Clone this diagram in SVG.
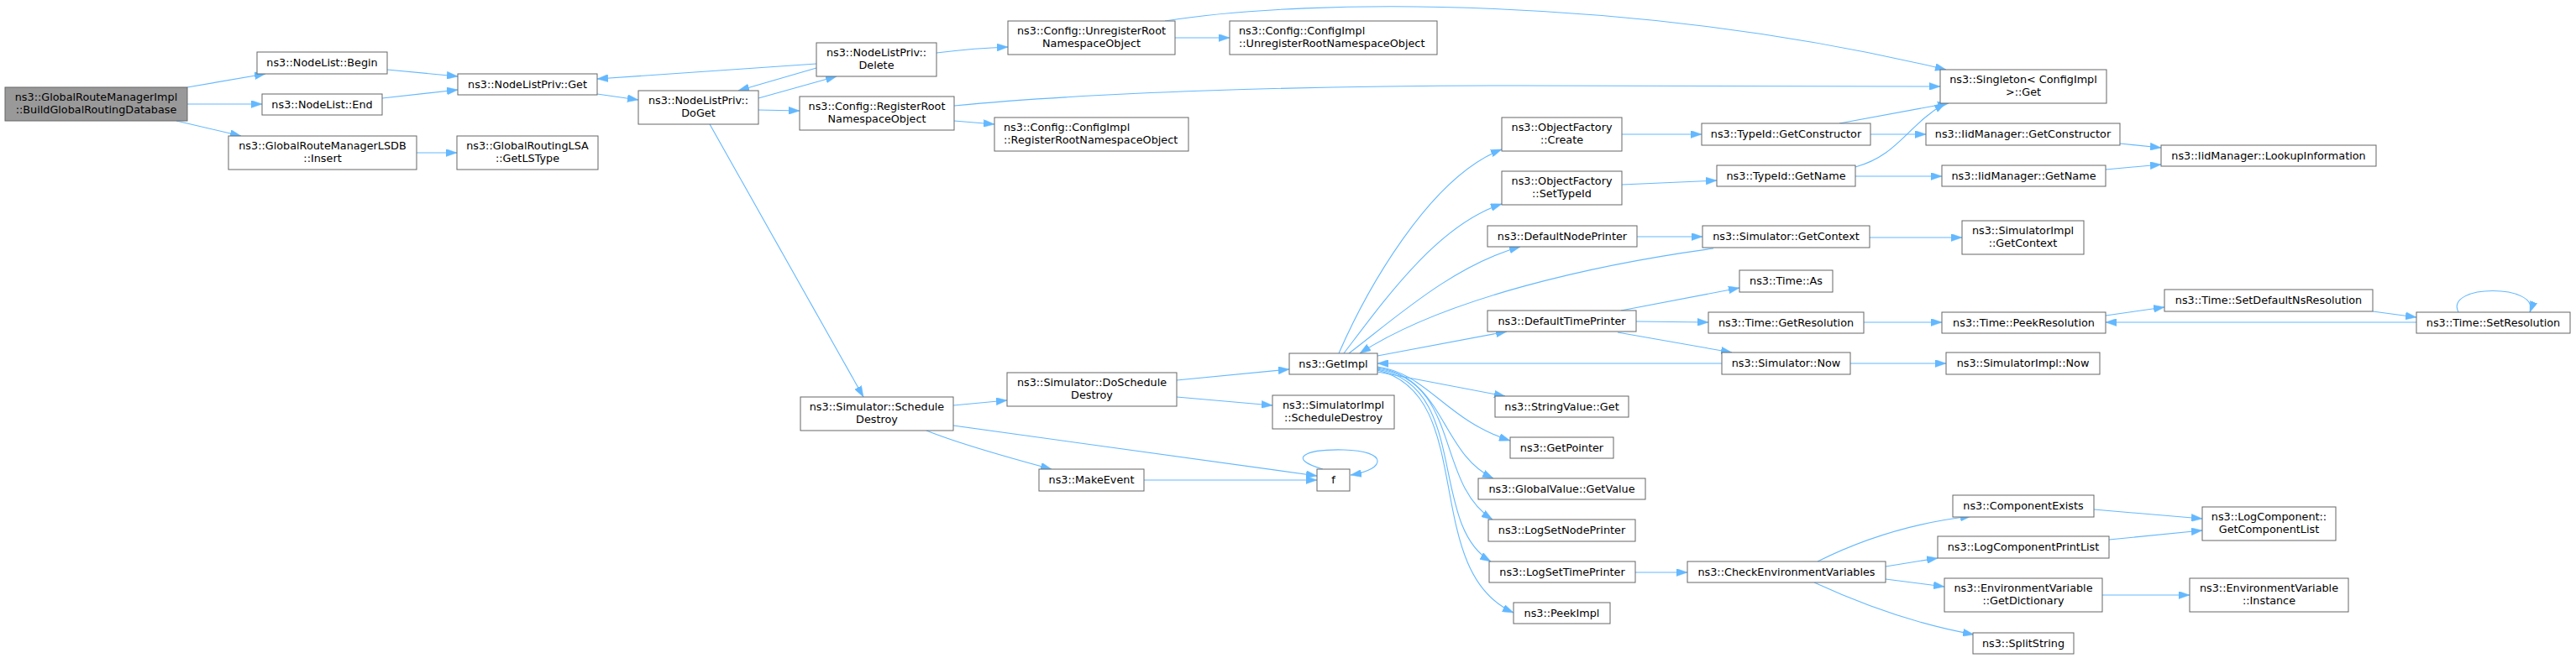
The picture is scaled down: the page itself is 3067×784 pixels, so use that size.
<svg xmlns="http://www.w3.org/2000/svg" width="3067" height="784" viewBox="0 0 3067 784">
<style>
.n rect{fill:#fff;stroke:#666;stroke-width:1}
.root rect{fill:#999}
text{font-family:"DejaVu Sans","Noto Sans",sans-serif;font-size:12.8px;fill:#000;text-anchor:middle}
text.l{text-anchor:start}
#edges path{fill:none;stroke:#63b8ff;stroke-width:1.1;marker-end:url(#a)}
</style>
<defs>
<marker id="a" viewBox="0 0 13 9" refX="13" refY="4.5" markerWidth="13" markerHeight="9" markerUnits="userSpaceOnUse" orient="auto">
<path d="M0,0 L13,4.5 L0,9 z" fill="#63b8ff" stroke="#63b8ff" stroke-width="0.5"/>
</marker>
</defs>
<rect width="3067" height="784" fill="#fff"/>
<g id="edges">
<path d="M223,104 L316,88"/>
<path d="M223,124 L312,124"/>
<path d="M210,144 L287,162"/>
<path d="M461,83 L545,91"/>
<path d="M455,117 L545,107"/>
<path d="M496,182 L544,182"/>
<path d="M711,112 L760,119"/>
<path d="M972,76 L711,94"/>
<path d="M903,117 L996,91"/>
<path d="M972,81 L879,108"/>
<path d="M903,131 L952,132"/>
<path d="M1115,63 C1140,60 1170,57 1200,56"/>
<path d="M1387,25 C1560,-3 1950,-5 2317,83"/>
<path d="M1399,45 L1464,45"/>
<path d="M1136,126 C1300,110 1550,102 1800,102 L2310,103"/>
<path d="M1136,144 L1184,148"/>
<path d="M845,148 L1028,473"/>
<path d="M1135,483 L1199,477"/>
<path d="M1135,507 L1568,567"/>
<path d="M1103,513 C1140,528 1200,545 1252,559"/>
<path d="M1362,572 L1568,572"/>
<path d="M1575,559 C1530,546 1555,535 1600,536 C1652,537 1652,559 1608,566"/>
<path d="M1401,453 L1535,440"/>
<path d="M1401,473 L1515,483"/>
<path d="M1594,421 C1625,350 1700,212 1788,178"/>
<path d="M1600,421 C1650,355 1712,268 1788,243"/>
<path d="M1606,421 C1660,380 1730,316 1810,294"/>
<path d="M2040,296 C1900,315 1720,355 1619,421"/>
<path d="M1640,424 L1794,395"/>
<path d="M2050,433 L1640,433"/>
<path d="M1640,443 L1792,472"/>
<path d="M1640,437 C1700,445 1720,500 1798,525"/>
<path d="M1640,438 C1720,450 1715,540 1778,570"/>
<path d="M1640,439 C1740,455 1708,575 1777,619"/>
<path d="M1640,440 C1750,460 1700,625 1775,669"/>
<path d="M1640,441 C1760,470 1690,680 1802,730"/>
<path d="M1931,160 L2026,160"/>
<path d="M1931,220 L2044,215"/>
<path d="M2190,147 L2320,123"/>
<path d="M2209,199 C2260,185 2270,150 2316,123"/>
<path d="M2227,160 L2293,160"/>
<path d="M2209,210 L2312,210"/>
<path d="M2524,171 L2573,176"/>
<path d="M2507,202 L2573,196"/>
<path d="M1949,282 L2027,282"/>
<path d="M2226,283 L2336,283"/>
<path d="M1930,370 L2071,343"/>
<path d="M1948,383 L2034,384"/>
<path d="M1926,396 L2062,420"/>
<path d="M2219,384 L2312,384"/>
<path d="M2507,376 L2577,366"/>
<path d="M2825,371 L2877,378"/>
<path d="M2877,384 L2507,384"/>
<path d="M2927,372 C2910,338 3025,338 3012,372"/>
<path d="M2203,433 L2317,433"/>
<path d="M1947,682 L2009,682"/>
<path d="M2164,669 Q2250,626 2347,615"/>
<path d="M2245,675 L2307,665"/>
<path d="M2245,690 L2315,699"/>
<path d="M2160,694 Q2260,740 2350,756"/>
<path d="M2493,607 L2622,618"/>
<path d="M2511,643 L2622,632"/>
<path d="M2503,709 L2607,709"/>
</g>
<g id="n_build" class="n root"><rect x="6" y="104" width="217" height="40"/><text x="114.5" y="120">ns3::GlobalRouteManagerImpl</text><text x="114.5" y="135">::BuildGlobalRoutingDatabase</text></g>
<g id="n_begin" class="n"><rect x="306" y="62" width="155" height="26"/><text x="383.5" y="79">ns3::NodeList::Begin</text></g>
<g id="n_end" class="n"><rect x="312" y="112" width="143" height="25"/><text x="383.5" y="129">ns3::NodeList::End</text></g>
<g id="n_insert" class="n"><rect x="272" y="162" width="224" height="40"/><text x="384" y="178">ns3::GlobalRouteManagerLSDB</text><text x="384" y="193">::Insert</text></g>
<g id="n_get" class="n"><rect x="545" y="88" width="166" height="25"/><text x="628" y="105">ns3::NodeListPriv::Get</text></g>
<g id="n_getlstype" class="n"><rect x="544" y="162" width="168" height="40"/><text x="628" y="178">ns3::GlobalRoutingLSA</text><text x="628" y="193">::GetLSType</text></g>
<g id="n_doget" class="n"><rect x="760" y="108" width="143" height="40"/><text x="831.5" y="124">ns3::NodeListPriv::</text><text x="831.5" y="139">DoGet</text></g>
<g id="n_delete" class="n"><rect x="972" y="51" width="143" height="40"/><text x="1043.5" y="67">ns3::NodeListPriv::</text><text x="1043.5" y="82">Delete</text></g>
<g id="n_register" class="n"><rect x="952" y="115" width="184" height="40"/><text x="1044" y="131">ns3::Config::RegisterRoot</text><text x="1044" y="146">NamespaceObject</text></g>
<g id="n_unregister" class="n"><rect x="1200" y="25" width="199" height="40"/><text x="1299.5" y="41">ns3::Config::UnregisterRoot</text><text x="1299.5" y="56">NamespaceObject</text></g>
<g id="n_ciunreg" class="n"><rect x="1464" y="25" width="247" height="40"/><text class="l" x="1475" y="41">ns3::Config::ConfigImpl</text><text class="l" x="1475" y="56">::UnregisterRootNamespaceObject</text></g>
<g id="n_cireg" class="n"><rect x="1184" y="140" width="231" height="40"/><text class="l" x="1195" y="156">ns3::Config::ConfigImpl</text><text class="l" x="1195" y="171">::RegisterRootNamespaceObject</text></g>
<g id="n_singleton" class="n"><rect x="2310" y="83" width="198" height="40"/><text x="2409" y="99">ns3::Singleton&lt; ConfigImpl</text><text x="2409" y="114">&gt;::Get</text></g>
<g id="n_scheddestroy" class="n"><rect x="953" y="473" width="182" height="40"/><text x="1044" y="489">ns3::Simulator::Schedule</text><text x="1044" y="504">Destroy</text></g>
<g id="n_doschedule" class="n"><rect x="1199" y="444" width="202" height="40"/><text x="1300" y="460">ns3::Simulator::DoSchedule</text><text x="1300" y="475">Destroy</text></g>
<g id="n_getimpl" class="n"><rect x="1535" y="421" width="105" height="25"/><text x="1587.5" y="438">ns3::GetImpl</text></g>
<g id="n_sischedule" class="n"><rect x="1515" y="471" width="145" height="40"/><text x="1587.5" y="487">ns3::SimulatorImpl</text><text x="1587.5" y="502">::ScheduleDestroy</text></g>
<g id="n_makeevent" class="n"><rect x="1237" y="559" width="125" height="26"/><text x="1299.5" y="576">ns3::MakeEvent</text></g>
<g id="n_f" class="n"><rect x="1568" y="559" width="39" height="26"/><text x="1587.5" y="576">f</text></g>
<g id="n_create" class="n"><rect x="1788" y="140" width="143" height="40"/><text x="1859.5" y="156">ns3::ObjectFactory</text><text x="1859.5" y="171">::Create</text></g>
<g id="n_settypeid" class="n"><rect x="1788" y="204" width="143" height="40"/><text x="1859.5" y="220">ns3::ObjectFactory</text><text x="1859.5" y="235">::SetTypeId</text></g>
<g id="n_dnp" class="n"><rect x="1771" y="269" width="178" height="25"/><text x="1860" y="286">ns3::DefaultNodePrinter</text></g>
<g id="n_dtp" class="n"><rect x="1771" y="370" width="177" height="25"/><text x="1859.5" y="387">ns3::DefaultTimePrinter</text></g>
<g id="n_stringvalue" class="n"><rect x="1780" y="472" width="159" height="25"/><text x="1859.5" y="489">ns3::StringValue::Get</text></g>
<g id="n_getpointer" class="n"><rect x="1798" y="521" width="123" height="25"/><text x="1859.5" y="538">ns3::GetPointer</text></g>
<g id="n_globalvalue" class="n"><rect x="1760" y="570" width="199" height="25"/><text x="1859.5" y="587">ns3::GlobalValue::GetValue</text></g>
<g id="n_lsnp" class="n"><rect x="1772" y="619" width="175" height="26"/><text x="1859.5" y="636">ns3::LogSetNodePrinter</text></g>
<g id="n_lstp" class="n"><rect x="1773" y="669" width="174" height="25"/><text x="1860" y="686">ns3::LogSetTimePrinter</text></g>
<g id="n_peekimpl" class="n"><rect x="1802" y="718" width="115" height="25"/><text x="1859.5" y="735">ns3::PeekImpl</text></g>
<g id="n_tgetctor" class="n"><rect x="2026" y="147" width="201" height="26"/><text x="2126.5" y="164">ns3::TypeId::GetConstructor</text></g>
<g id="n_tgetname" class="n"><rect x="2044" y="197" width="165" height="25"/><text x="2126.5" y="214">ns3::TypeId::GetName</text></g>
<g id="n_igetctor" class="n"><rect x="2293" y="147" width="231" height="26"/><text x="2408.5" y="164">ns3::IidManager::GetConstructor</text></g>
<g id="n_igetname" class="n"><rect x="2312" y="197" width="195" height="25"/><text x="2409.5" y="214">ns3::IidManager::GetName</text></g>
<g id="n_lookup" class="n"><rect x="2573" y="173" width="256" height="25"/><text x="2701" y="190">ns3::IidManager::LookupInformation</text></g>
<g id="n_sgetctx" class="n"><rect x="2027" y="269" width="199" height="26"/><text x="2126.5" y="286">ns3::Simulator::GetContext</text></g>
<g id="n_sigetctx" class="n"><rect x="2336" y="263" width="145" height="40"/><text x="2408.5" y="279">ns3::SimulatorImpl</text><text x="2408.5" y="294">::GetContext</text></g>
<g id="n_timeas" class="n"><rect x="2071" y="322" width="111" height="26"/><text x="2126.5" y="339">ns3::Time::As</text></g>
<g id="n_getres" class="n"><rect x="2034" y="372" width="185" height="25"/><text x="2126.5" y="389">ns3::Time::GetResolution</text></g>
<g id="n_snow" class="n"><rect x="2050" y="420" width="153" height="26"/><text x="2126.5" y="437">ns3::Simulator::Now</text></g>
<g id="n_peekres" class="n"><rect x="2312" y="372" width="195" height="25"/><text x="2409.5" y="389">ns3::Time::PeekResolution</text></g>
<g id="n_sinow" class="n"><rect x="2317" y="420" width="183" height="26"/><text x="2408.5" y="437">ns3::SimulatorImpl::Now</text></g>
<g id="n_setdefns" class="n"><rect x="2577" y="345" width="248" height="26"/><text x="2701" y="362">ns3::Time::SetDefaultNsResolution</text></g>
<g id="n_setres" class="n"><rect x="2877" y="372" width="183" height="25"/><text x="2968.5" y="389">ns3::Time::SetResolution</text></g>
<g id="n_checkenv" class="n"><rect x="2009" y="669" width="236" height="25"/><text x="2127" y="686">ns3::CheckEnvironmentVariables</text></g>
<g id="n_compexists" class="n"><rect x="2325" y="590" width="168" height="26"/><text x="2409" y="607">ns3::ComponentExists</text></g>
<g id="n_lcpl" class="n"><rect x="2307" y="639" width="204" height="26"/><text x="2409" y="656">ns3::LogComponentPrintList</text></g>
<g id="n_getdict" class="n"><rect x="2315" y="689" width="188" height="40"/><text x="2409" y="705">ns3::EnvironmentVariable</text><text x="2409" y="720">::GetDictionary</text></g>
<g id="n_split" class="n"><rect x="2349" y="754" width="120" height="25"/><text x="2409" y="771">ns3::SplitString</text></g>
<g id="n_getcomplist" class="n"><rect x="2622" y="604" width="159" height="40"/><text x="2701.5" y="620">ns3::LogComponent::</text><text x="2701.5" y="635">GetComponentList</text></g>
<g id="n_instance" class="n"><rect x="2607" y="689" width="189" height="40"/><text x="2701.5" y="705">ns3::EnvironmentVariable</text><text x="2701.5" y="720">::Instance</text></g>
</svg>
